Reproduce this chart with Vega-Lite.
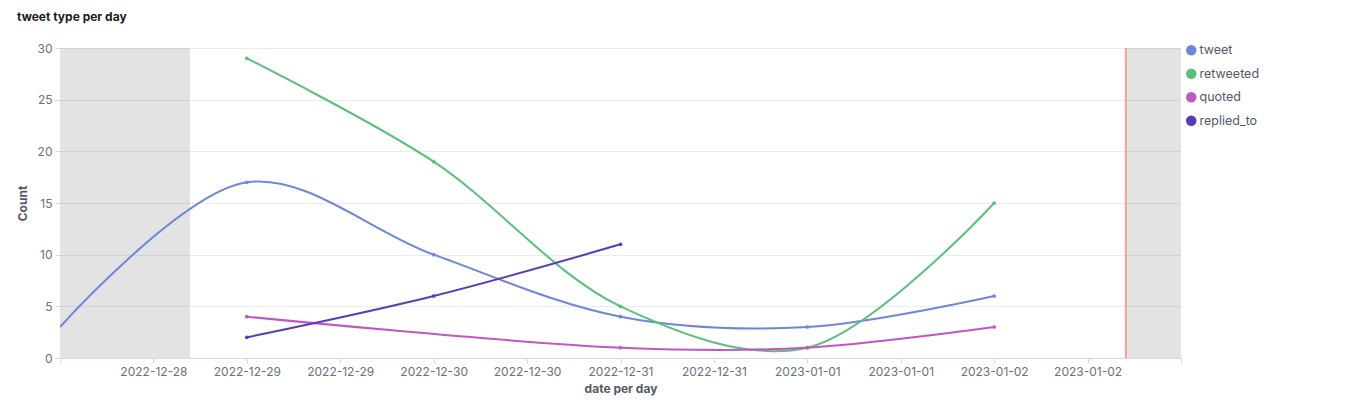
{
  "$schema": "https://vega.github.io/schema/vega-lite/v6.json",
  "width": 1121,
  "height": 310,
  "autosize": {"type": "none"},
  "padding": {"left": 60, "top": 48, "right": 171, "bottom": 62},
  "background": "#ffffff",
  "title": {"text": "tweet type per day", "anchor": "start", "frame": "group", "dx": -43, "offset": 18, "font": "Inter", "fontSize": 12, "fontWeight": "bold", "color": "#1a1c21"},
  "config": {
    "view": {"stroke": null},
    "font": "Inter",
    "axis": {"labelFont": "Inter", "labelFontSize": 12, "labelColor": "#69707d", "titleFont": "Inter", "titleFontSize": 12, "titleFontWeight": "bold", "titleColor": "#535966", "tickColor": "#d3dae6", "domainColor": "#d3dae6", "gridColor": "#e9ecf1", "tickSize": 5}
  },
  "datasets": {
    "counts": [
      {"date": "2022-12-28T00:00:00", "type": "tweet", "count": 3},
      {"date": "2022-12-29T00:00:00", "type": "tweet", "count": 17},
      {"date": "2022-12-30T00:00:00", "type": "tweet", "count": 10},
      {"date": "2022-12-31T00:00:00", "type": "tweet", "count": 4},
      {"date": "2023-01-01T00:00:00", "type": "tweet", "count": 3},
      {"date": "2023-01-02T00:00:00", "type": "tweet", "count": 6},
      {"date": "2022-12-29T00:00:00", "type": "retweeted", "count": 29},
      {"date": "2022-12-30T00:00:00", "type": "retweeted", "count": 19},
      {"date": "2022-12-31T00:00:00", "type": "retweeted", "count": 5},
      {"date": "2023-01-01T00:00:00", "type": "retweeted", "count": 1},
      {"date": "2023-01-02T00:00:00", "type": "retweeted", "count": 15},
      {"date": "2022-12-29T00:00:00", "type": "quoted", "count": 4},
      {"date": "2022-12-31T00:00:00", "type": "quoted", "count": 1},
      {"date": "2023-01-01T00:00:00", "type": "quoted", "count": 1},
      {"date": "2023-01-02T00:00:00", "type": "quoted", "count": 3},
      {"date": "2022-12-29T00:00:00", "type": "replied_to", "count": 2},
      {"date": "2022-12-30T00:00:00", "type": "replied_to", "count": 6},
      {"date": "2022-12-31T00:00:00", "type": "replied_to", "count": 11}
    ],
    "outside": [
      {"start": "2022-12-28T00:00:00", "end": "2022-12-28T16:42:00"},
      {"start": "2023-01-02T16:55:00", "end": "2023-01-03T00:00:00"}
    ],
    "now": [
      {"time": "2023-01-02T16:55:00"}
    ]
  },
  "layer": [
    {
      "data": {"name": "outside"},
      "mark": {"type": "rect", "color": "#000000", "opacity": 0.11},
      "encoding": {
        "x": {"field": "start", "type": "temporal"},
        "x2": {"field": "end"}
      }
    },
    {
      "data": {"name": "counts"},
      "mark": {"type": "line", "interpolate": "catmull-rom", "strokeWidth": 2, "clip": true},
      "encoding": {
        "x": {"field": "date", "type": "temporal", "title": "date per day",
          "scale": {"domain": [{"year": 2022, "month": 12, "date": 28}, {"year": 2023, "month": 1, "date": 3}]},
          "axis": {"grid": false, "format": "%Y-%m-%d", "labelPadding": 3, "titlePadding": 6,
            "values": [
              {"year": 2022, "month": 12, "date": 28, "hours": 0},
              {"year": 2022, "month": 12, "date": 28, "hours": 12},
              {"year": 2022, "month": 12, "date": 29, "hours": 0},
              {"year": 2022, "month": 12, "date": 29, "hours": 12},
              {"year": 2022, "month": 12, "date": 30, "hours": 0},
              {"year": 2022, "month": 12, "date": 30, "hours": 12},
              {"year": 2022, "month": 12, "date": 31, "hours": 0},
              {"year": 2022, "month": 12, "date": 31, "hours": 12},
              {"year": 2023, "month": 1, "date": 1, "hours": 0},
              {"year": 2023, "month": 1, "date": 1, "hours": 12},
              {"year": 2023, "month": 1, "date": 2, "hours": 0},
              {"year": 2023, "month": 1, "date": 2, "hours": 12},
              {"year": 2023, "month": 1, "date": 3, "hours": 0}
            ],
            "labelExpr": "(datum.index == 0 || datum.index == 1) ? '' : datum.label",
            "labelOverlap": false}
        },
        "y": {"field": "count", "type": "quantitative", "title": "Count",
          "scale": {"domain": [0, 30], "nice": false},
          "axis": {"values": [0, 5, 10, 15, 20, 25, 30], "domain": false, "labelPadding": 3, "titlePadding": 8}
        },
        "color": {"field": "type", "type": "nominal",
          "scale": {"domain": ["tweet", "retweeted", "quoted", "replied_to"], "range": ["#6f87d8", "#5cc07c", "#c058c4", "#5a3bb8"]},
          "legend": {"title": null, "orient": "none", "legendX": 1125, "legendY": -4, "symbolType": "circle", "symbolSize": 110, "symbolStrokeWidth": 0, "labelFont": "Inter", "labelFontSize": 12.5, "labelColor": "#535966", "rowPadding": 10.5, "labelOffset": 2}
        }
      }
    },
    {
      "data": {"name": "counts"},
      "transform": [{"filter": {"field": "date", "gt": {"year": 2022, "month": 12, "date": 28, "hours": 12}}}],
      "mark": {"type": "circle", "size": 14, "opacity": 1},
      "encoding": {
        "x": {"field": "date", "type": "temporal"},
        "y": {"field": "count", "type": "quantitative"},
        "color": {"field": "type", "type": "nominal"}
      }
    },
    {
      "data": {"name": "now"},
      "mark": {"type": "rule", "color": "#f0a0a0", "strokeWidth": 2},
      "encoding": {
        "x": {"field": "time", "type": "temporal"}
      }
    }
  ]
}
